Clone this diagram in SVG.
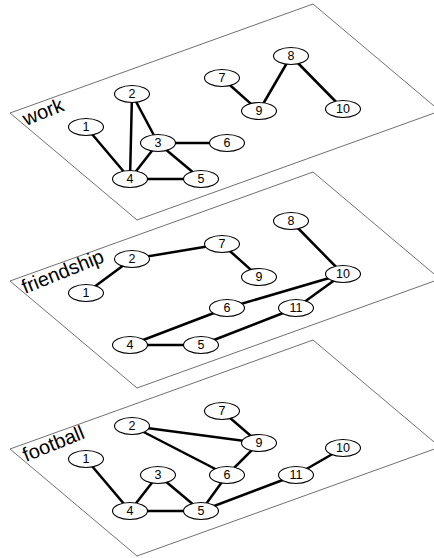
<svg xmlns="http://www.w3.org/2000/svg" width="434" height="558" viewBox="0 0 434 558">
  <style>
    .plane { fill: #fff; stroke: #707070; stroke-width: 1; }
    .edge { stroke: #000; stroke-width: 2.5; stroke-linecap: butt; fill: none; }
    .node ellipse { fill: #fff; stroke: #000; stroke-width: 1.1; }
    .node text { font-family: "Liberation Sans", "DejaVu Sans", sans-serif; font-size: 12.5px; fill: #000; text-anchor: middle; dominant-baseline: central; }
    .layer-label { font-family: "Liberation Sans", "DejaVu Sans", sans-serif; font-size: 20px; fill: #000; }
  </style>
  <rect width="434" height="558" fill="#fff"/>

  <!-- layer planes, back to front -->
  <g id="planes">
    <polygon id="plane-work" class="plane" points="10,113 313,4 440,111 137,220"/>
    <polygon id="plane-friendship" class="plane" points="10,281 313,172 440,279 137,388"/>
    <polygon id="plane-football" class="plane" points="10,449 313,340 440,447 137,556"/>
  </g>

  <!-- layer labels -->
  <text id="label-work" class="layer-label" transform="translate(26,126) rotate(-22)">work</text>
  <text id="label-friendship" class="layer-label" transform="translate(25,294) rotate(-22)">friendship</text>
  <text id="label-football" class="layer-label" transform="translate(26,462) rotate(-22)">football</text>

  <!-- connectors -->
  <g id="connectors">
    <!-- work -->
    <line class="edge" x1="86" y1="127" x2="130" y2="179"/>
    <line class="edge" x1="132" y1="94" x2="130" y2="179"/>
    <line class="edge" x1="132" y1="94" x2="158" y2="143"/>
    <line class="edge" x1="158" y1="143" x2="130" y2="179"/>
    <line class="edge" x1="158" y1="143" x2="201" y2="179"/>
    <line class="edge" x1="158" y1="143" x2="227" y2="143"/>
    <line class="edge" x1="130" y1="179" x2="201" y2="179"/>
    <line class="edge" x1="222" y1="78" x2="259" y2="111"/>
    <line class="edge" x1="259" y1="111" x2="291" y2="56"/>
    <line class="edge" x1="291" y1="56" x2="343" y2="109"/>
    <!-- friendship -->
    <line class="edge" x1="86" y1="293" x2="132" y2="259"/>
    <line class="edge" x1="132" y1="259" x2="222" y2="244"/>
    <line class="edge" x1="222" y1="244" x2="259" y2="277"/>
    <line class="edge" x1="291" y1="221" x2="343" y2="274"/>
    <line class="edge" x1="343" y1="274" x2="227" y2="308"/>
    <line class="edge" x1="343" y1="274" x2="296" y2="308"/>
    <line class="edge" x1="227" y1="308" x2="130" y2="345"/>
    <line class="edge" x1="130" y1="345" x2="201" y2="345"/>
    <line class="edge" x1="201" y1="345" x2="296" y2="308"/>
    <!-- football -->
    <line class="edge" x1="86" y1="459" x2="130" y2="511"/>
    <line class="edge" x1="130" y1="511" x2="158" y2="475"/>
    <line class="edge" x1="158" y1="475" x2="201" y2="511"/>
    <line class="edge" x1="130" y1="511" x2="201" y2="511"/>
    <line class="edge" x1="132" y1="426" x2="259" y2="443"/>
    <line class="edge" x1="132" y1="426" x2="227" y2="475"/>
    <line class="edge" x1="222" y1="411" x2="259" y2="443"/>
    <line class="edge" x1="259" y1="443" x2="227" y2="475"/>
    <line class="edge" x1="227" y1="475" x2="201" y2="511"/>
    <line class="edge" x1="201" y1="511" x2="296" y2="475"/>
    <line class="edge" x1="296" y1="475" x2="343" y2="448"/>
  </g>

  <!-- work layer nodes -->
  <g id="work-1" class="node"><ellipse cx="86" cy="127" rx="17.5" ry="8.5"/><text x="86" y="127">1</text></g>
  <g id="work-2" class="node"><ellipse cx="132" cy="94" rx="17.5" ry="8.5"/><text x="132" y="94">2</text></g>
  <g id="work-3" class="node"><ellipse cx="158" cy="143" rx="17.5" ry="8.5"/><text x="158" y="143">3</text></g>
  <g id="work-4" class="node"><ellipse cx="130" cy="179" rx="17.5" ry="8.5"/><text x="130" y="179">4</text></g>
  <g id="work-5" class="node"><ellipse cx="201" cy="179" rx="17.5" ry="8.5"/><text x="201" y="179">5</text></g>
  <g id="work-6" class="node"><ellipse cx="227" cy="143" rx="17.5" ry="8.5"/><text x="227" y="143">6</text></g>
  <g id="work-7" class="node"><ellipse cx="222" cy="78" rx="17.5" ry="8.5"/><text x="222" y="78">7</text></g>
  <g id="work-8" class="node"><ellipse cx="291" cy="56" rx="17.5" ry="8.5"/><text x="291" y="56">8</text></g>
  <g id="work-9" class="node"><ellipse cx="259" cy="111" rx="17.5" ry="8.5"/><text x="259" y="111">9</text></g>
  <g id="work-10" class="node"><ellipse cx="343" cy="109" rx="17.5" ry="8.5"/><text x="343" y="109">10</text></g>

  <!-- friendship layer nodes -->
  <g id="friendship-1" class="node"><ellipse cx="86" cy="293" rx="17.5" ry="8.5"/><text x="86" y="293">1</text></g>
  <g id="friendship-2" class="node"><ellipse cx="132" cy="259" rx="17.5" ry="8.5"/><text x="132" y="259">2</text></g>
  <g id="friendship-4" class="node"><ellipse cx="130" cy="345" rx="17.5" ry="8.5"/><text x="130" y="345">4</text></g>
  <g id="friendship-5" class="node"><ellipse cx="201" cy="345" rx="17.5" ry="8.5"/><text x="201" y="345">5</text></g>
  <g id="friendship-6" class="node"><ellipse cx="227" cy="308" rx="17.5" ry="8.5"/><text x="227" y="308">6</text></g>
  <g id="friendship-7" class="node"><ellipse cx="222" cy="244" rx="17.5" ry="8.5"/><text x="222" y="244">7</text></g>
  <g id="friendship-8" class="node"><ellipse cx="291" cy="221" rx="17.5" ry="8.5"/><text x="291" y="221">8</text></g>
  <g id="friendship-9" class="node"><ellipse cx="259" cy="277" rx="17.5" ry="8.5"/><text x="259" y="277">9</text></g>
  <g id="friendship-10" class="node"><ellipse cx="343" cy="274" rx="17.5" ry="8.5"/><text x="343" y="274">10</text></g>
  <g id="friendship-11" class="node"><ellipse cx="296" cy="308" rx="17.5" ry="8.5"/><text x="296" y="308">11</text></g>

  <!-- football layer nodes -->
  <g id="football-1" class="node"><ellipse cx="86" cy="459" rx="17.5" ry="8.5"/><text x="86" y="459">1</text></g>
  <g id="football-2" class="node"><ellipse cx="132" cy="426" rx="17.5" ry="8.5"/><text x="132" y="426">2</text></g>
  <g id="football-3" class="node"><ellipse cx="158" cy="475" rx="17.5" ry="8.5"/><text x="158" y="475">3</text></g>
  <g id="football-4" class="node"><ellipse cx="130" cy="511" rx="17.5" ry="8.5"/><text x="130" y="511">4</text></g>
  <g id="football-5" class="node"><ellipse cx="201" cy="511" rx="17.5" ry="8.5"/><text x="201" y="511">5</text></g>
  <g id="football-6" class="node"><ellipse cx="227" cy="475" rx="17.5" ry="8.5"/><text x="227" y="475">6</text></g>
  <g id="football-7" class="node"><ellipse cx="222" cy="411" rx="17.5" ry="8.5"/><text x="222" y="411">7</text></g>
  <g id="football-9" class="node"><ellipse cx="259" cy="443" rx="17.5" ry="8.5"/><text x="259" y="443">9</text></g>
  <g id="football-10" class="node"><ellipse cx="343" cy="448" rx="17.5" ry="8.5"/><text x="343" y="448">10</text></g>
  <g id="football-11" class="node"><ellipse cx="296" cy="475" rx="17.5" ry="8.5"/><text x="296" y="475">11</text></g>
</svg>
